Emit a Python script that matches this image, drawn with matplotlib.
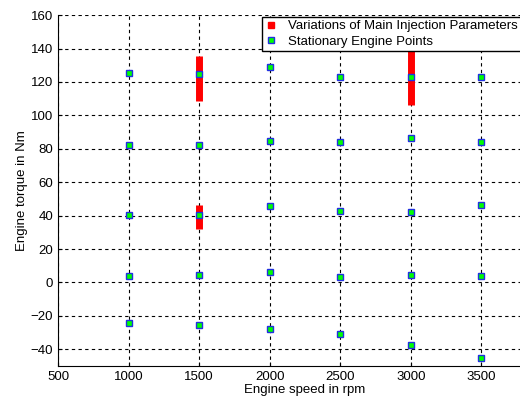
import numpy as np
import matplotlib.pyplot as plt
from matplotlib.lines import Line2D

plt.rcParams['font.family'] = ['Liberation Sans', 'DejaVu Sans']

# stationary operating points (speed in rpm, torque in Nm)
speeds = [1000, 1500, 2000, 2500, 3000, 3500]
torque_125 = [125.2, 125.0, 129.2, 123.2, 123.2, 123.0]
torque_80 = [82.4, 82.4, 84.8, 84.0, 86.2, 83.8]
torque_40 = [40.6, 40.3, 46.0, 42.6, 42.0, 46.2]
torque_0 = [3.8, 4.4, 6.4, 3.2, 4.4, 3.8]
torque_neg = [-24.5, -25.7, -28.0, -30.8, -37.4, -45.2]

# torque ranges covered by the main injection variations
var_speed = [1500, 1500, 3000]
var_low = [108.8, 32.0, 106.3]
var_high = [135.5, 46.4, 140.0]

fig = plt.figure(figsize=(5.2, 3.97), dpi=100)
ax = fig.add_axes([0.1115, 0.078, 0.95, 0.884])

for x, lo, hi in zip(var_speed, var_low, var_high):
    ax.plot([x, x], [lo, hi], color='red', lw=5, solid_capstyle='butt', zorder=3)

for row in [torque_125, torque_80, torque_40, torque_0, torque_neg]:
    ax.plot(speeds, row, ls='none', marker='s', ms=4.8, mfc='#00ff00',
            mec='#2030e0', mew=1.0, zorder=4)

ax.set_xlim(500, 4000)
ax.set_ylim(-50, 160)
ax.set_xticks([500, 1000, 1500, 2000, 2500, 3000, 3500])
ax.set_yticks(np.arange(-40, 161, 20))
ax.grid(True, color='black', ls=(0, (3, 3)), lw=0.8)
ax.spines['top'].set_visible(False)
ax.spines['right'].set_visible(False)
ax.tick_params(labelsize=9.5, direction='in', length=3)
ax.set_xlabel('Engine speed in rpm', fontsize=9.5, labelpad=1)
ax.set_ylabel('Engine torque in Nm', fontsize=9.5, labelpad=2)

handles = [
    Line2D([], [], ls='none', marker='s', ms=5, mfc='red', mec='red'),
    Line2D([], [], ls='none', marker='s', ms=4.8, mfc='#00ff00', mec='#2030e0'),
]
leg = ax.legend(handles, ['Variations of Main Injection Parameters', 'Stationary Engine Points'],
                loc='upper left', bbox_to_anchor=(0.413, 0.995), fontsize=9.5,
                fancybox=False, edgecolor='black', framealpha=1, borderpad=0.25,
                handlelength=0.8, handletextpad=0.9, labelspacing=0.25, borderaxespad=0)
leg.get_frame().set_linewidth(1.0)

fig.savefig('out.png')
